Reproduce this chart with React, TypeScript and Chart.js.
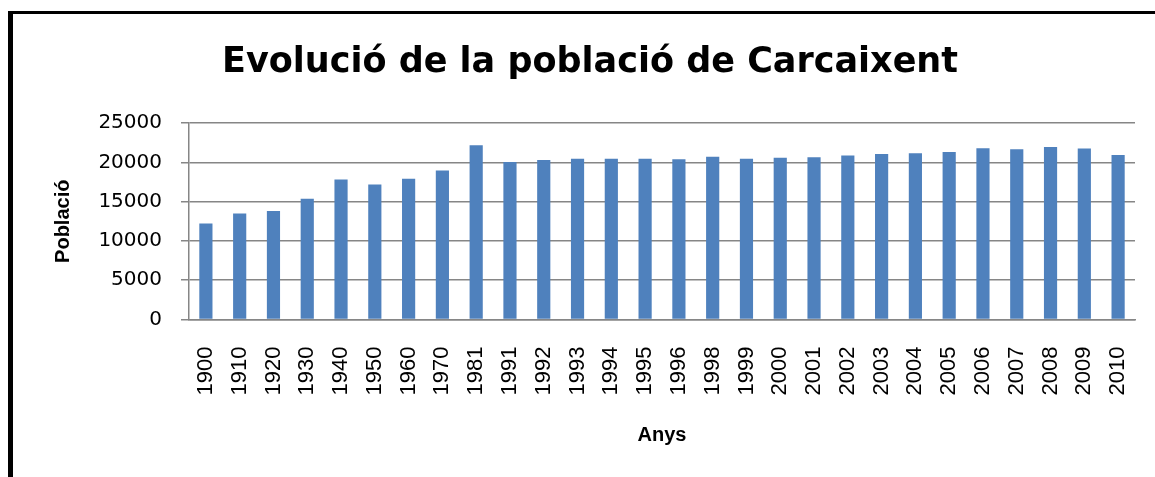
import React, { useEffect, useRef } from 'react';
import { Chart, registerables } from 'chart.js';

Chart.register(...registerables);

const years: string[] = [
  '1900', '1910', '1920', '1930', '1940', '1950', '1960', '1970', '1981', '1991',
  '1992', '1993', '1994', '1995', '1996', '1998', '1999', '2000', '2001', '2002',
  '2003', '2004', '2005', '2006', '2007', '2008', '2009', '2010',
];

const population: number[] = [
  12200, 13500, 13800, 15350, 17820, 17180, 17900, 18970, 22170, 20030,
  20290, 20460, 20460, 20460, 20380, 20720, 20460, 20590, 20630, 20850,
  21060, 21150, 21320, 21780, 21660, 21950, 21740, 20930,
];

const yMin = 0;
const yMax = 25000;
const yStep = 5000;

const chartTitle = 'Evolució de la població de Carcaixent';
const xTitle = 'Anys';
const yTitle = 'Població';

export default function App() {
  const ref = useRef<HTMLCanvasElement>(null);

  useEffect(() => {
    if (!ref.current) return;
    const grey = '#868686';
    const chart = new Chart(ref.current, {
      type: 'bar',
      data: {
        labels: years,
        datasets: [
          {
            data: population,
            backgroundColor: '#4F81BD',
            barPercentage: 0.39,
            categoryPercentage: 1,
          },
        ],
      },
      options: {
        animation: false,
        responsive: false,
        layout: { padding: { left: 25, right: 0, top: 0, bottom: 0 } },
        plugins: {
          legend: { display: false },
          tooltip: { enabled: false },
          title: {
            display: true,
            text: chartTitle,
            color: '#000',
            font: { family: 'DejaVu Sans', size: 35, weight: 'bold' },
            padding: { top: 42, bottom: 39 },
          },
        },
        scales: {
          x: {
            grid: { display: false, drawTicks: false },
            border: { display: true, color: grey, width: 1.5 },
            ticks: {
              autoSkip: false,
              minRotation: 90,
              maxRotation: 90,
              padding: 27,
              color: '#000',
              font: { family: 'Liberation Sans', size: 22 },
            },
            title: {
              display: true,
              text: xTitle,
              color: '#000',
              font: { family: 'Liberation Sans', size: 20, weight: 'bold' },
              padding: { top: 0, bottom: 30 },
            },
            afterFit: (s: any) => {
              s.height = 157.5;
              s.paddingLeft = 0;
              s.paddingRight = 20;
            },
          },
          y: {
            min: yMin,
            max: yMax,
            ticks: {
              stepSize: yStep,
              padding: 19,
              color: '#000',
              format: { useGrouping: false },
              font: { family: 'DejaVu Sans', size: 20 },
            },
            grid: { color: grey, lineWidth: 1.5, tickLength: 8 },
            border: { display: true, color: grey, width: 1.5 },
            title: {
              display: true,
              text: yTitle,
              color: '#000',
              font: { family: 'Liberation Sans', size: 20, weight: 'bold' },
              padding: { top: 26, bottom: 0 },
            },
            afterFit: (s: any) => {
              s.width = 164;
            },
          },
        },
      },
    });
    return () => chart.destroy();
  }, []);

  return (
    <div>
      <div
        style={{
          position: 'fixed',
          left: 8,
          top: 11,
          width: 2000,
          height: 2000,
          borderLeft: '5px solid #000',
          borderTop: '3px solid #000',
          background: '#fff',
        }}
      />
      <canvas
        ref={ref}
        width={1155}
        height={477}
        style={{ position: 'fixed', left: 0, top: 0, width: 1155, height: 477 }}
      />
    </div>
  );
}
